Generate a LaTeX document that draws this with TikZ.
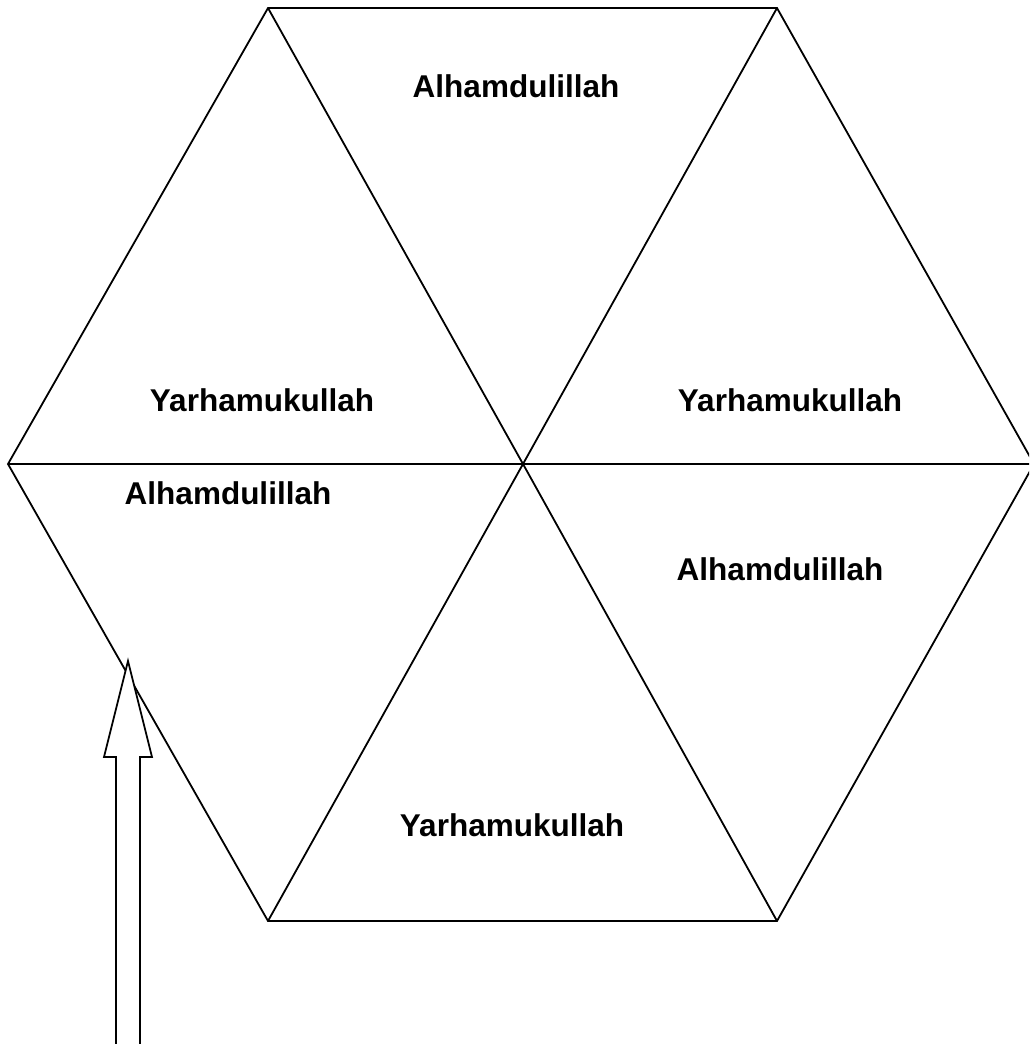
\documentclass[tikz,border=0pt]{standalone}
\usepackage{fontspec}
\setmainfont{Liberation Sans}
\usepackage{tikz}
\usetikzlibrary{positioning}

\tikzset{
  edge/.style={black, line width=1.8pt, line join=miter},
  wish/.style={font=\fontsize{31.5}{38}\selectfont\bfseries, inner sep=0pt}
}

\begin{document}
\begin{tikzpicture}[x=1pt, y=-1pt]
  % ── frame (reference size in px) ──
  \useasboundingbox (0,0) rectangle (1029,1044);
  \clip (0,0) rectangle (1029,1044);

  % ── hexagon corners ──
  \coordinate (mid) at (523,464);
  \coordinate (tl)  at (268,8);
  \coordinate (tr)  at (777,8);
  \coordinate (rt)  at (1034,464);
  \coordinate (br)  at (777,921);
  \coordinate (bl)  at (268,921);
  \coordinate (lf)  at (8,464);

  % ── outline and spokes ──
  \draw[edge] (tl) -- (tr) -- (rt) -- (br) -- (bl) -- (lf) -- cycle;
  \foreach \c in {tl, tr, rt, br, bl, lf} {
    \draw[edge] (mid) -- (\c);
  }

  % ── labels ──
  \node[wish] (a1) at (516,86)  {Alhamdulillah};
  \node[wish] (y1) at (262,400) {Yarhamukullah};
  \node[wish] (y2) at (790,400) {Yarhamukullah};
  \node[wish] (a2) at (228,493) {Alhamdulillah};
  \node[wish] (a3) at (780,569) {Alhamdulillah};
  \node[wish] (y3) at (512,825) {Yarhamukullah};

  % ── block arrow pointing up ──
  \coordinate (tip) at (128,661);
  \draw[edge, fill=white]
    (116,1050) -- (116,757) -- (104,757) -- (tip)
    -- (152,757) -- (140,757) -- (140,1050);
\end{tikzpicture}
\end{document}
